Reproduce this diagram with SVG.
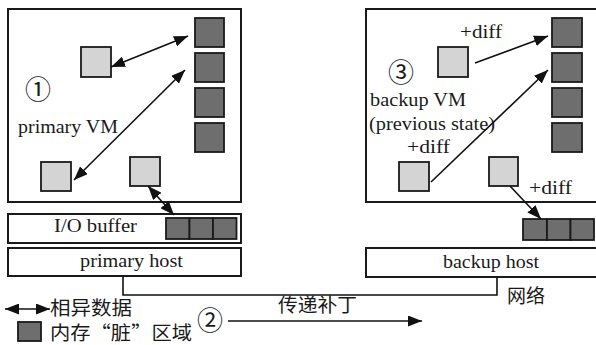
<svg xmlns="http://www.w3.org/2000/svg" width="596" height="345" viewBox="0 0 596 345">
<style>
.box{fill:#fff;stroke:#1a1a1a;stroke-width:2}
.dk{fill:#6e6e6e;stroke:#1a1a1a;stroke-width:1.8}
.lt{fill:#d4d4d4;stroke:#1a1a1a;stroke-width:1.8}
.ln{fill:none;stroke:#111;stroke-width:1.6}
.t{font-family:"Liberation Serif","Times New Roman",serif;font-size:18px;fill:#1a1a1a}
.c{font-family:"Noto Sans CJK SC","Liberation Serif",sans-serif;font-size:19px;fill:#1a1a1a}
.n{font-family:"Noto Sans CJK SC","DejaVu Sans",sans-serif;font-size:26px;fill:#1a1a1a}
</style>
<defs>
<marker id="ah" markerUnits="userSpaceOnUse" markerWidth="15" markerHeight="11" refX="14" refY="5.5" orient="auto-start-reverse">
<path d="M0,0 L14,5.5 L0,11 z" fill="#111"/>
</marker>
</defs>
<rect width="596" height="345" fill="#fff"/>

<g id="primary-vm">
<rect class="box" x="8" y="9" width="233" height="193"/>
<text class="n" x="38" y="99" text-anchor="middle">①</text>
<text class="t" x="18" y="133" textLength="100" lengthAdjust="spacingAndGlyphs">primary VM</text>
<rect class="dk" x="195" y="18" width="29" height="29"/>
<rect class="dk" x="195" y="53" width="29" height="29"/>
<rect class="dk" x="195" y="88" width="29" height="29"/>
<rect class="dk" x="195" y="123" width="29" height="29"/>
<rect class="lt" x="81" y="47" width="30" height="30"/>
<rect class="lt" x="41" y="162" width="30" height="29"/>
<rect class="lt" x="130" y="157" width="30" height="29"/>
</g>

<g id="io-buffer">
<rect class="box" x="8" y="214" width="233" height="29"/>
<text class="t" x="54" y="232" textLength="83" lengthAdjust="spacingAndGlyphs">I/O buffer</text>
<rect class="dk" x="166" y="218" width="23.5" height="21"/>
<rect class="dk" x="189.5" y="218" width="23.5" height="21"/>
<rect class="dk" x="213" y="218" width="23.5" height="21"/>
</g>

<g id="primary-host">
<rect class="box" x="8" y="248" width="233" height="28"/>
<text class="t" x="80" y="267" textLength="103" lengthAdjust="spacingAndGlyphs">primary host</text>
</g>

<g id="backup-vm">
<rect class="box" x="366" y="9" width="240" height="193"/>
<text class="n" x="401" y="82" text-anchor="middle">③</text>
<text class="t" x="370" y="106" textLength="96" lengthAdjust="spacingAndGlyphs">backup VM</text>
<text class="t" x="369" y="130" textLength="126" lengthAdjust="spacingAndGlyphs">(previous state)</text>
<text class="t" x="460" y="38" textLength="42" lengthAdjust="spacingAndGlyphs">+diff</text>
<text class="t" x="407" y="153" textLength="43" lengthAdjust="spacingAndGlyphs">+diff</text>
<text class="t" x="529" y="194" textLength="43" lengthAdjust="spacingAndGlyphs">+diff</text>
<rect class="dk" x="552" y="18" width="30" height="29"/>
<rect class="dk" x="552" y="53" width="30" height="29"/>
<rect class="dk" x="552" y="88" width="30" height="29"/>
<rect class="dk" x="552" y="123" width="30" height="29"/>
<rect class="lt" x="438" y="47" width="30" height="30"/>
<rect class="lt" x="399" y="162" width="30" height="29"/>
<rect class="lt" x="489" y="157" width="29" height="29"/>
</g>

<g id="backup-buffer">
<rect class="dk" x="523" y="219" width="24" height="21"/>
<rect class="dk" x="547" y="219" width="23.5" height="21"/>
<rect class="dk" x="570.5" y="219" width="23.5" height="21"/>
</g>

<g id="backup-host">
<rect class="box" x="366" y="248" width="240" height="29"/>
<text class="t" x="443" y="268" textLength="96" lengthAdjust="spacingAndGlyphs">backup host</text>
</g>

<g id="connectors">
<line class="ln" x1="111" y1="67" x2="188" y2="36" marker-start="url(#ah)" marker-end="url(#ah)"/>
<line class="ln" x1="74" y1="180" x2="185" y2="70" marker-start="url(#ah)" marker-end="url(#ah)"/>
<line class="ln" x1="148" y1="186" x2="174" y2="215" marker-start="url(#ah)" marker-end="url(#ah)"/>
<line class="ln" x1="475" y1="63" x2="548" y2="36" marker-end="url(#ah)"/>
<line class="ln" x1="431" y1="182" x2="548" y2="70" marker-end="url(#ah)"/>
<line class="ln" x1="510" y1="186" x2="541" y2="219" marker-end="url(#ah)"/>
<polyline class="ln" points="123,276 123,295 497,295 497,277"/>
<line class="ln" x1="228" y1="321" x2="422" y2="321" marker-end="url(#ah)"/>
</g>

<g id="labels">
<text class="c" x="507" y="303" textLength="38" lengthAdjust="spacingAndGlyphs">网络</text>
<text class="c" x="278" y="312" textLength="79" lengthAdjust="spacingAndGlyphs">传递补丁</text>
<text class="n" x="210" y="330" text-anchor="middle">②</text>
</g>

<g id="legend">
<line class="ln" x1="5" y1="309" x2="50" y2="309" marker-start="url(#ah)" marker-end="url(#ah)"/>
<text class="c" x="50" y="315" textLength="82" lengthAdjust="spacingAndGlyphs">相异数据</text>
<rect class="dk" x="18" y="322" width="23" height="19"/>
<text class="c" x="50" y="340" textLength="142" lengthAdjust="spacingAndGlyphs">内存“脏”区域</text>
</g>
</svg>
